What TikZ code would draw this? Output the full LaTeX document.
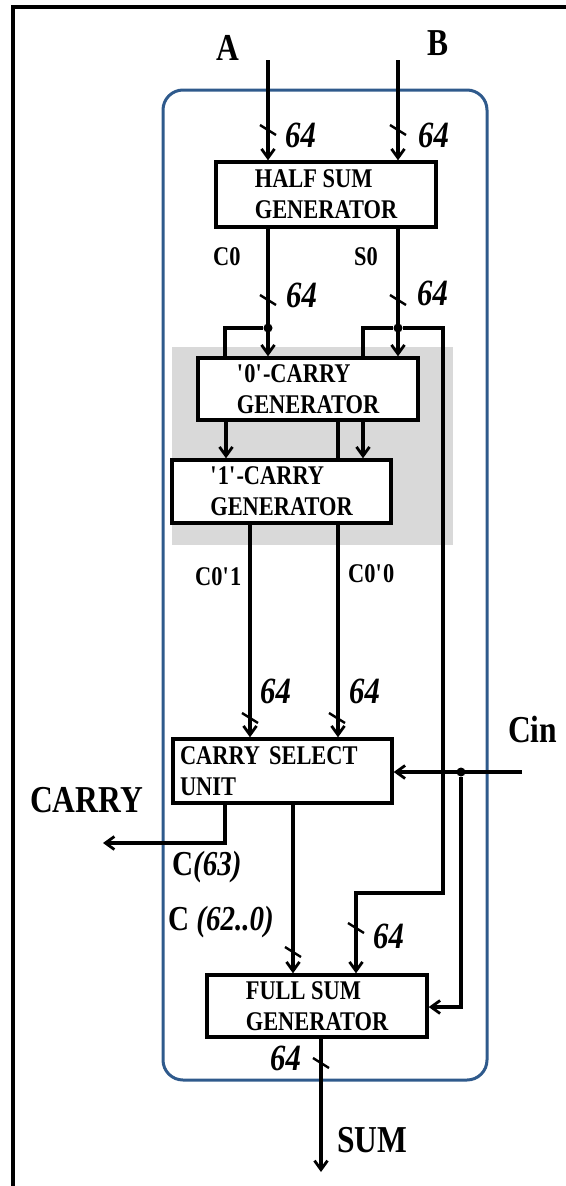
\documentclass[tikz,border=0pt]{standalone}
\usepackage{fontspec}
\setmainfont{Liberation Serif}
\newfontfamily\cf{Liberation Serif}[FakeStretch=0.83]
\usetikzlibrary{arrows.meta}
\definecolor{frameblue}{HTML}{2F5A8C}
\definecolor{graybg}{HTML}{D9D9D9}
\tikzset{
  wire/.style={line width=3.2pt},
  arr/.style={wire, -{Straight Barb[length=9pt,width=13pt,line width=2.8pt]}},
  blk/.style={draw, line width=3.4pt, fill=white, align=left, inner xsep=0pt, inner ysep=0pt, font=\cf\bfseries\fontsize{27}{31}\selectfont},
  lbl/.style={inner sep=0pt, anchor=base west, font=\cf\bfseries\fontsize{27}{29}\selectfont},
  big/.style={lbl, font=\cf\bfseries\fontsize{38}{40}\selectfont},
  mid/.style={lbl, font=\cf\bfseries\fontsize{35}{38}\selectfont},
  num/.style={lbl, font=\cf\bfseries\itshape\fontsize{37}{40}\selectfont},
  dotj/.style={circle, fill=black, inner sep=0pt, minimum size=9pt},
  bus/.pic={\draw[line width=2.4pt] (-8,-5) -- (8,5);}
}
\begin{document}
\begin{tikzpicture}[x=1pt,y=-1pt]
\useasboundingbox (0,0) rectangle (565,1186);
% outer frame (top and left)
\draw[line width=3.6pt] (566,7) -- (13,7) -- (13,1187);
% enclosing unit
\draw[frameblue, line width=3pt, rounded corners=20pt] (163,90) rectangle (487,1080);
% shaded carry generator area
\fill[graybg] (172,347) rectangle (453,545);
% blocks
\node[blk, minimum width=220pt, minimum height=65pt] (hs) at (326,194.5) {HALF SUM\\GENERATOR};
\node[blk, minimum width=220pt, minimum height=62pt] (c0g) at (308,389) {\textquotesingle0\textquotesingle-CARRY\\GENERATOR};
\node[blk, minimum width=219pt, minimum height=64pt, text width=205pt, inner xsep=7pt] (csu) at (282.5,771) {CARRY SELECT\\UNIT};
\node[blk, minimum width=220pt, minimum height=62pt] (fsg) at (317,1006) {FULL SUM\\GENERATOR};
% C0'0 line passes behind the '1'-carry generator
\draw[arr] (c0g.south -| 338,0) -- (csu.north -| 338,0);
\node[blk, minimum width=219pt, minimum height=63pt] (c1g) at (281.5,491.5) {\textquotesingle1\textquotesingle-CARRY\\GENERATOR};
% inputs
\coordinate (ain) at (268,60);
\coordinate (bin) at (398,60);
\draw[arr] (ain) -- (ain |- hs.north);
\draw[arr] (bin) -- (bin |- hs.north);
% C0 and S0
\node[dotj] (jc) at (268,328) {};
\node[dotj] (js) at (398,328) {};
\coordinate (jcl) at (225,328);
\coordinate (jsl) at (363,328);
\coordinate (jsr) at (443,328);
\coordinate (jsd) at (443,893);
\coordinate (fsin) at (356,893);
\draw[arr] (hs.south -| jc) -- (c0g.north -| jc);
\draw[arr] (hs.south -| js) -- (c0g.north -| js);
\draw[wire] (jc) -- (jcl) -- (jcl |- c0g.north);
\draw[wire] (js) -- (jsl) -- (jsl |- c0g.north);
\draw[arr] (js) -- (jsr) -- (jsd) -- (fsin) -- (fsin |- fsg.north);
% '0' to '1' carry generator
\draw[arr] (c0g.south -| 226,0) -- (c1g.north -| 226,0);
\draw[arr] (c0g.south -| 363,0) -- (c1g.north -| 363,0);
% C0'1
\draw[arr] (c1g.south -| 250,0) -- (csu.north -| 250,0);
% Cin
\coordinate (cin) at (522,772);
\node[dotj] (cind) at (461,772) {};
\coordinate (cinb) at (461,1007);
\draw[arr] (cin) -- (csu.east |- cin);
\draw[arr] (cind) -- (cinb) -- (fsg.east |- cinb);
% CARRY out
\coordinate (cy1) at (225,843);
\coordinate (cy2) at (103,843);
\draw[arr] (csu.south -| cy1) -- (cy1) -- (cy2);
% C(62..0)
\draw[arr] (csu.south -| 293,0) -- (fsg.north -| 293,0);
% SUM
\coordinate (sumo) at (321,1172);
\draw[arr] (fsg.south -| sumo) -- (sumo);
% bus width marks
\pic at (268,130) {bus};
\pic at (398,130) {bus};
\pic at (268,300) {bus};
\pic at (398,300) {bus};
\pic at (250,718) {bus};
\pic at (337,718) {bus};
\pic at (293,952) {bus};
\pic at (356,928) {bus};
\pic at (321,1063) {bus};
% labels
\node[big] (lA) at (216,60) {A};
\node[big] (lB) at (427,55) {B};
\node[num] (n1) at (285,147) {64};
\node[num] (n2) at (418,147) {64};
\node[lbl] (lC0) at (213,265) {C0};
\node[lbl] (lS0) at (354,265) {S0};
\node[num] (n3) at (286,307) {64};
\node[num] (n4) at (417,305) {64};
\node[lbl] (lc01) at (195,585) {C0\textquotesingle1};
\node[lbl] (lc00) at (348,582) {C0\textquotesingle0};
\node[num] (n5) at (260,703) {64};
\node[num] (n6) at (349,703) {64};
\node[big] (lcin) at (508,742) {Cin};
\node[big] (lcarry) at (30,812) {CARRY};
\node[mid] (lc63) at (172,875) {C\textit{(63)}};
\node[mid] (lc620) at (168,930) {C \textit{(62..0)}};
\node[num] (n7) at (373,948) {64};
\node[num] (n8) at (270,1070) {64};
\node[big] (lsum) at (337,1152) {SUM};
\end{tikzpicture}
\end{document}
